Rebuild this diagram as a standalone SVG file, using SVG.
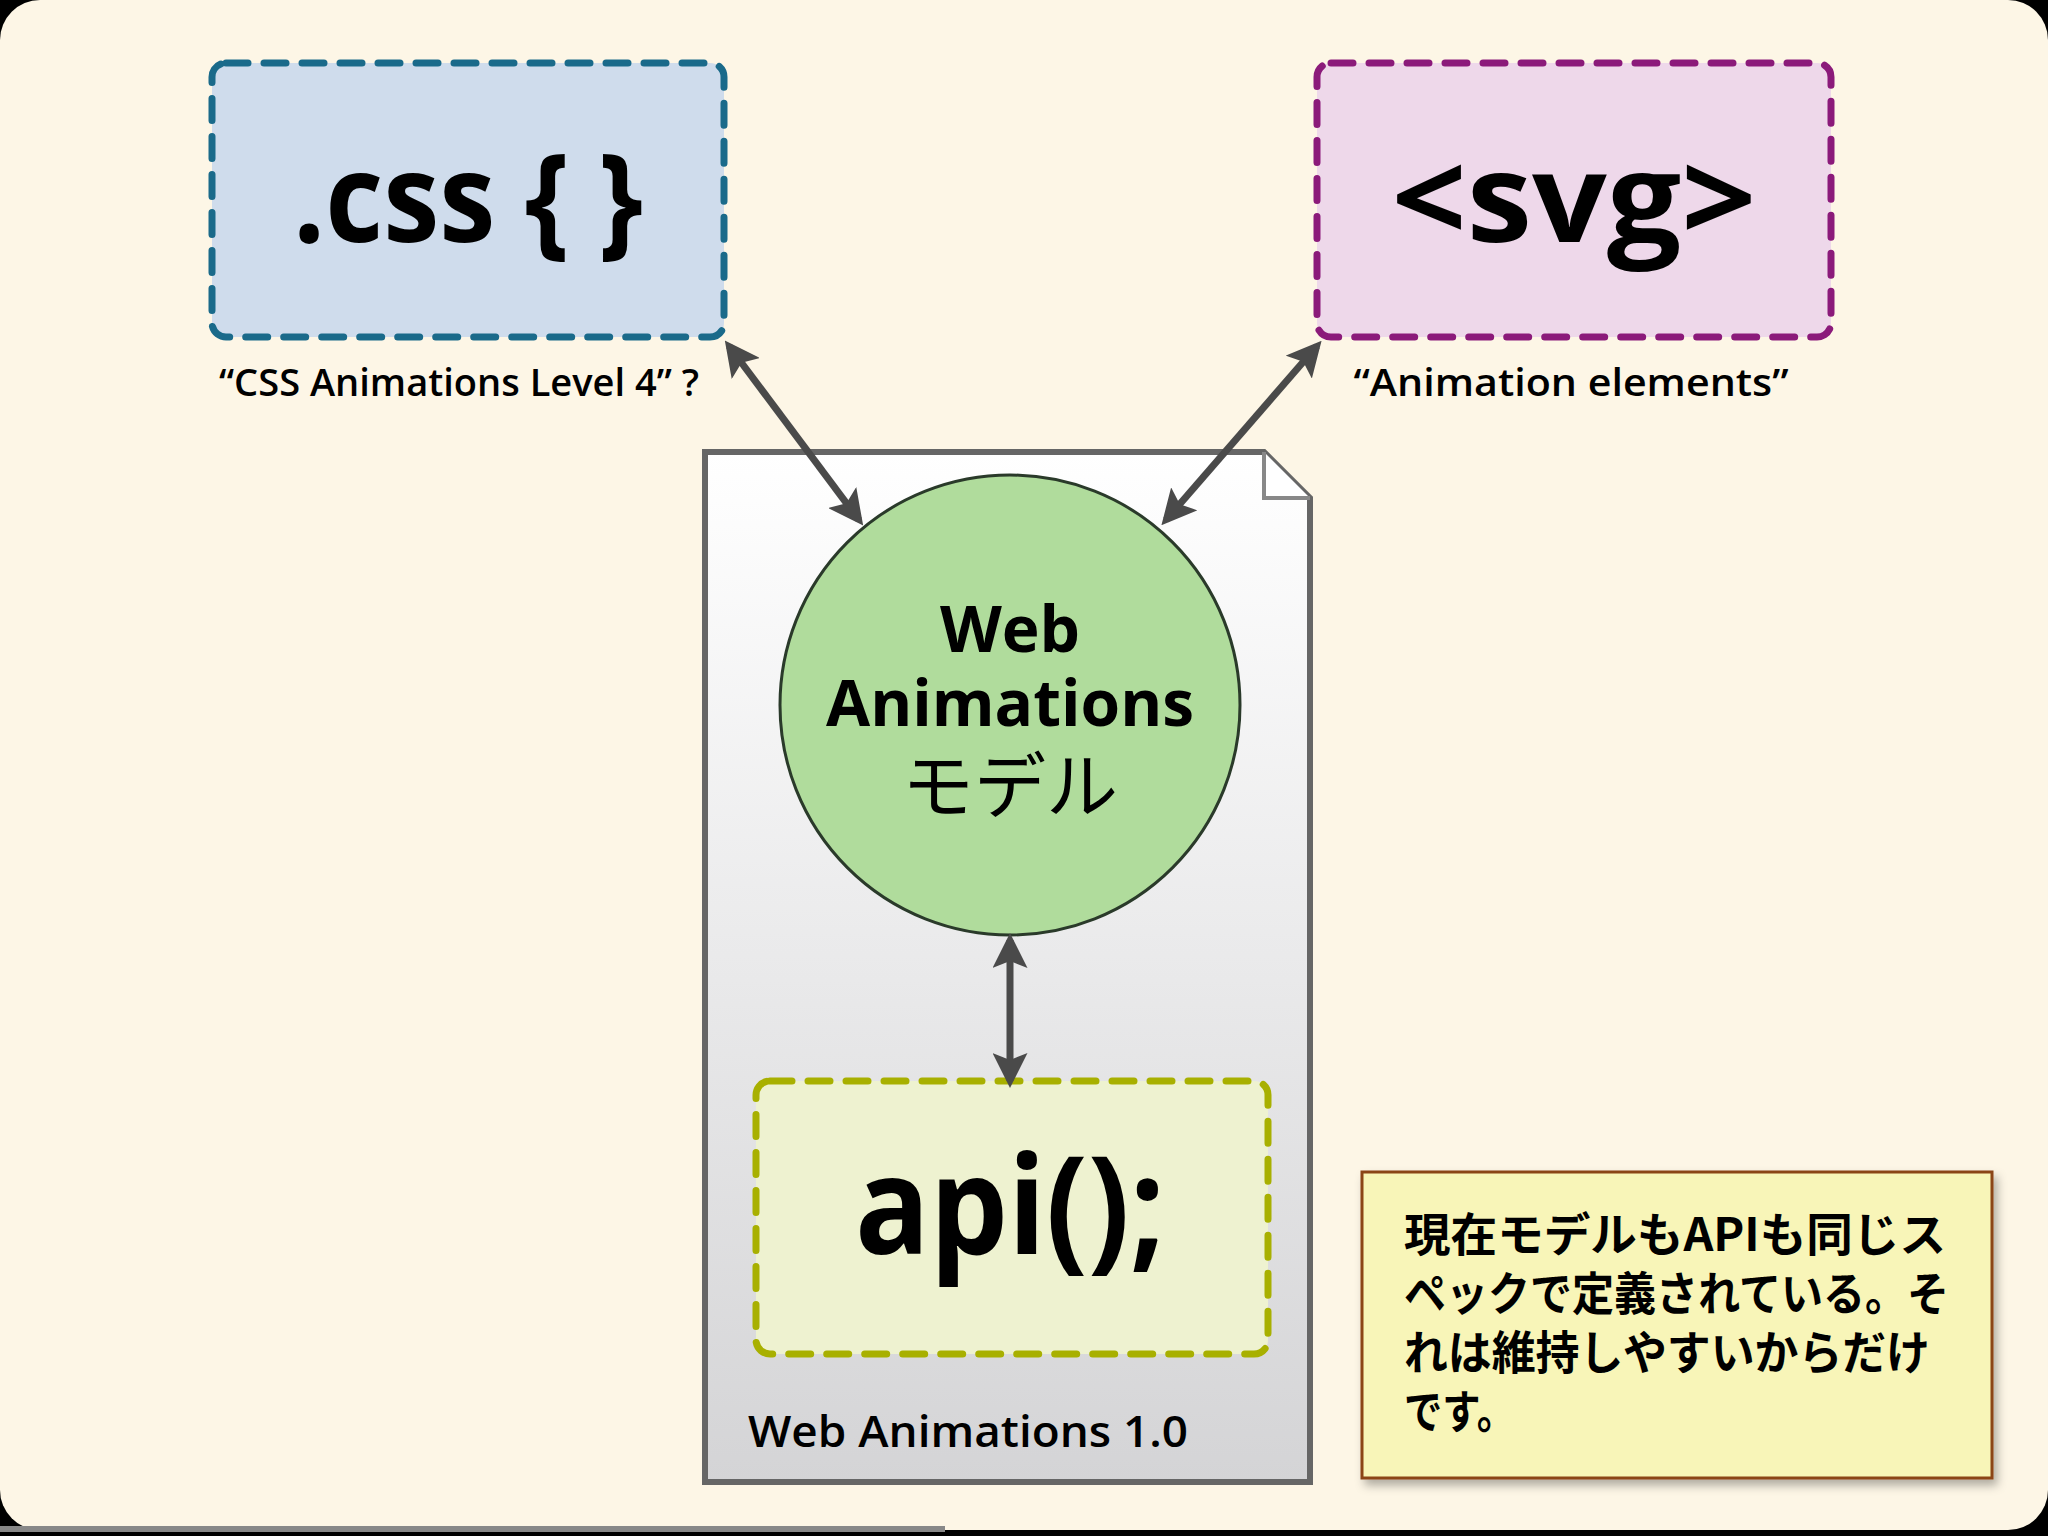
<svg xmlns="http://www.w3.org/2000/svg" width="2048" height="1536" viewBox="0 0 2048 1536">
<defs>
<linearGradient id="doc" x1="0" y1="0" x2="0" y2="1"><stop offset="0" stop-color="#ffffff"/><stop offset="1" stop-color="#d4d4d6"/></linearGradient>
<marker id="ah" viewBox="0 0 10 10" refX="8" refY="5" markerWidth="5" markerHeight="5" orient="auto-start-reverse"><path d="M0,0 L10,5 L0,10 L2,5 z" fill="#4a4a4a"/></marker>
<filter id="sh" x="-10%" y="-10%" width="130%" height="130%"><feDropShadow dx="4" dy="6" stdDeviation="5" flood-color="#000" flood-opacity="0.3"/></filter>
</defs>
<style>
text{font-family:"Open Sans","Noto Sans","Noto Sans CJK JP",sans-serif;fill:#000}
.b{font-weight:bold}
.box{stroke-width:7;stroke-dasharray:22 16;stroke-linecap:round}
.conn{stroke:#4a4a4a;stroke-width:7;fill:none;marker-start:url(#ah);marker-end:url(#ah)}
.jp{font-family:"Noto Sans CJK JP",sans-serif;font-weight:bold;font-size:46px}
</style>
<rect width="2048" height="1536" fill="#000"/>
<rect width="2048" height="1530" rx="40" fill="#fdf6e6"/>
<rect x="0" y="1526" width="945" height="6" fill="#888"/>
<g id="doc1">
<path d="M705,452 H1264 L1310,498 V1482 H705 Z" fill="url(#doc)" stroke="#666" stroke-width="6"/>
<path d="M1264,452 V498 H1310" fill="#fff" stroke="#888" stroke-width="4"/>
<text x="748" y="1447" font-size="44" font-weight="600" textLength="440" lengthAdjust="spacingAndGlyphs">Web Animations 1.0</text>
</g>
<g id="css">
<rect class="box" x="212" y="63" width="512" height="274" rx="14" fill="#cfdcec" stroke="#1a6a8a"/>
<text class="b" x="468" y="242" font-size="124" text-anchor="middle" textLength="350" lengthAdjust="spacingAndGlyphs">.css { }</text>
<text x="219" y="396" font-size="38" font-weight="600" textLength="480" lengthAdjust="spacingAndGlyphs">“CSS Animations Level 4” ?</text>
</g>
<g id="svg">
<rect class="box" x="1317" y="63" width="514" height="274" rx="14" fill="#eed8ea" stroke="#8b1a7a"/>
<text class="b" x="1574" y="242" font-size="124" text-anchor="middle" textLength="365" lengthAdjust="spacingAndGlyphs">&lt;svg&gt;</text>
<text x="1571" y="396" font-size="38" font-weight="600" text-anchor="middle" textLength="435" lengthAdjust="spacingAndGlyphs">“Animation elements”</text>
</g>
<g id="model">
<circle cx="1010" cy="705" r="230" fill="#b0dc9c" stroke="#2a3a2a" stroke-width="3"/>
<text class="b" x="1010" y="652" font-size="64" text-anchor="middle">Web</text>
<text class="b" x="1010" y="726" font-size="64" text-anchor="middle">Animations</text>
<text x="1010" y="812" font-size="72" text-anchor="middle" style="font-family:'Noto Sans CJK JP',sans-serif">モデル</text>
</g>
<g id="api">
<rect class="box" x="756" y="1081" width="512" height="273" rx="14" fill="#eef2d0" stroke="#a8b000"/>
<text class="b" x="1010" y="1254" font-size="137" text-anchor="middle" textLength="310" lengthAdjust="spacingAndGlyphs">api();</text>
</g>
<g id="note">
<rect x="1362" y="1172" width="630" height="306" fill="#f8f5b8" stroke="#8b4513" stroke-width="3" filter="url(#sh)"/>
<text class="jp" x="1404" y="1251" textLength="542" lengthAdjust="spacingAndGlyphs">現在モデルもAPIも同じス</text>
<text class="jp" x="1404" y="1310" textLength="545" lengthAdjust="spacingAndGlyphs">ペックで定義されている。そ</text>
<text class="jp" x="1404" y="1369" textLength="526" lengthAdjust="spacingAndGlyphs">れは維持しやすいからだけ</text>
<text class="jp" x="1404" y="1428" textLength="111" lengthAdjust="spacingAndGlyphs">です。</text>
</g>
<g id="connectors">
<line class="conn" x1="729" y1="346" x2="859" y2="520"/>
<line class="conn" x1="1317" y1="346" x2="1166" y2="520"/>
<line class="conn" x1="1010" y1="940" x2="1010" y2="1081"/>
</g>
</svg>
